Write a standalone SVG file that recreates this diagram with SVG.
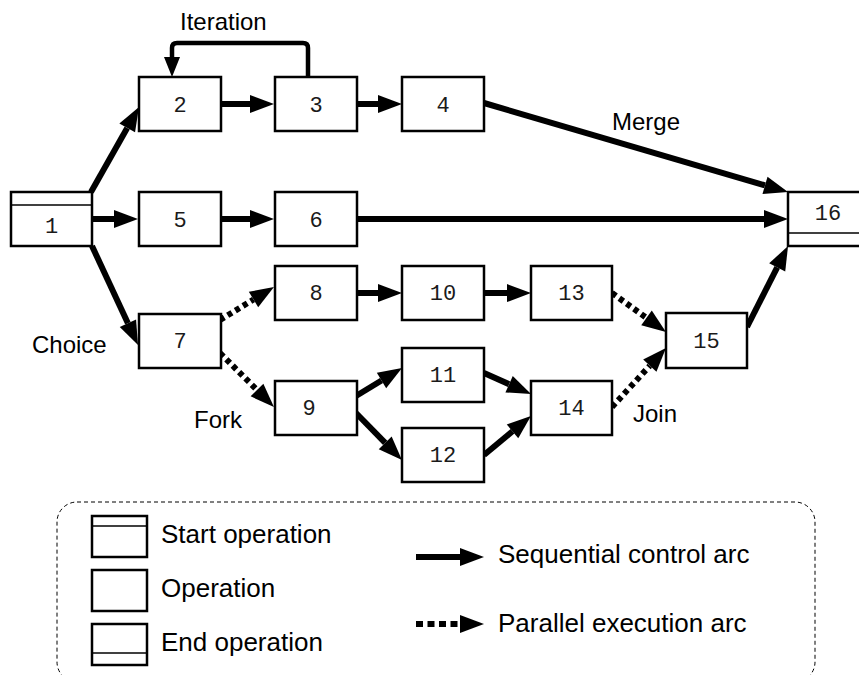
<svg xmlns="http://www.w3.org/2000/svg" width="859" height="675" viewBox="0 0 859 675">
<defs>
<style>
.box{fill:#fff;stroke:#000;stroke-width:2.5}
.sep{stroke:#000;stroke-width:1.5}
.num{font-family:"Liberation Mono","DejaVu Sans Mono",monospace;font-size:22px;text-anchor:middle;fill:#1a1a1a}
.lbl{font-family:"Liberation Sans",Arial,sans-serif;font-size:24px;fill:#000}
.leg{font-family:"Liberation Sans",Arial,sans-serif;font-size:26px;fill:#000}
.seq{fill:none;stroke:#000;stroke-width:6;marker-end:url(#ah)}
.par{fill:none;stroke:#000;stroke-width:6;stroke-dasharray:5 4;marker-end:url(#ah)}
</style>
<marker id="ah" markerUnits="userSpaceOnUse" markerWidth="26" markerHeight="20" viewBox="0 -10 26 20" refX="0" refY="0" orient="auto" overflow="visible">
<path d="M0,-9 L24,0 L0,9 Z" fill="#000"/>
</marker>
<marker id="ahs" markerUnits="userSpaceOnUse" markerWidth="22" markerHeight="18" viewBox="0 -9 22 18" refX="0" refY="0" orient="auto" overflow="visible">
<path d="M0,-8 L20,0 L0,8 Z" fill="#000"/>
</marker>
</defs>
<rect width="859" height="675" fill="#fff"/>

<g id="connectors">
<path class="seq" d="M91,192 L127.2,127.9"/>
<path class="seq" d="M92,219 L114,219"/>
<path class="seq" d="M92,246 L127.9,323.2"/>
<path class="seq" d="M221,104 L250,104"/>
<path class="seq" d="M357,104 L378,104"/>
<path d="M308,77 V48 Q308,43 303,43 H177 Q172,43 172,48 V57" fill="none" stroke="#000" stroke-width="4.5" marker-end="url(#ahs)"/>
<path class="seq" d="M484,103 L765,185.3"/>
<path class="seq" d="M221,219 L250,219"/>
<path class="seq" d="M357,219 L764,219"/>
<path class="par" d="M220,320 L253.5,299.5"/>
<path class="par" d="M220,353 L257,390"/>
<path class="seq" d="M357,293 L378,293"/>
<path class="seq" d="M356,396 L381.5,380.5"/>
<path class="seq" d="M356,413 L385.2,442.9"/>
<path class="seq" d="M485,293 L507,293"/>
<path class="seq" d="M484,373 L509.1,384.2"/>
<path class="seq" d="M484,455 L512.5,431.3"/>
<path class="par" d="M612,293 L646.5,317.9"/>
<path class="par" d="M612,407 L649.8,365.7"/>
<path class="seq" d="M747,327 L777.2,267.4"/>
</g>

<g id="n1"><rect class="box" x="11" y="192" width="81" height="54"/><line class="sep" x1="11" y1="205" x2="92" y2="205"/><text class="num" x="51.5" y="233">1</text></g>
<g id="n2"><rect class="box" x="139" y="77" width="82" height="54"/><text class="num" x="180" y="112">2</text></g>
<g id="n3"><rect class="box" x="275" y="77" width="82" height="54"/><text class="num" x="316" y="112">3</text></g>
<g id="n4"><rect class="box" x="402" y="77" width="82" height="54"/><text class="num" x="443" y="112">4</text></g>
<g id="n5"><rect class="box" x="139" y="192" width="82" height="54"/><text class="num" x="180" y="227">5</text></g>
<g id="n6"><rect class="box" x="275" y="192" width="82" height="54"/><text class="num" x="316" y="227">6</text></g>
<g id="n7"><rect class="box" x="139" y="314" width="82" height="54"/><text class="num" x="180" y="348">7</text></g>
<g id="n8"><rect class="box" x="275" y="266" width="82" height="54"/><text class="num" x="316" y="300">8</text></g>
<g id="n9"><rect class="box" x="275" y="381" width="82" height="54"/><text class="num" x="309" y="415">9</text></g>
<g id="n10"><rect class="box" x="402" y="266" width="82" height="54"/><text class="num" x="443" y="300">10</text></g>
<g id="n11"><rect class="box" x="402" y="348" width="82" height="54"/><text class="num" x="443" y="382">11</text></g>
<g id="n12"><rect class="box" x="402" y="428" width="82" height="54"/><text class="num" x="443" y="462">12</text></g>
<g id="n13"><rect class="box" x="531" y="266" width="81" height="54"/><text class="num" x="571.5" y="300">13</text></g>
<g id="n14"><rect class="box" x="531" y="381" width="81" height="54"/><text class="num" x="571.5" y="415">14</text></g>
<g id="n15"><rect class="box" x="666" y="313" width="81" height="55"/><text class="num" x="706.5" y="348">15</text></g>
<g id="n16"><rect class="box" x="788" y="192" width="82" height="54"/><line class="sep" x1="788" y1="233" x2="870" y2="233"/><text class="num" x="828" y="220">16</text></g>

<g id="labels">
<text class="lbl" x="180" y="30">Iteration</text>
<text class="lbl" x="612" y="130">Merge</text>
<text class="lbl" x="32" y="353">Choice</text>
<text class="lbl" x="194" y="428">Fork</text>
<text class="lbl" x="633" y="422">Join</text>
</g>

<g id="legend">
<rect x="57" y="502" width="758" height="180" rx="20" fill="none" stroke="#000" stroke-width="1" stroke-dasharray="4 3"/>
<rect class="box" x="92" y="516" width="55" height="41"/><line class="sep" x1="92" y1="526" x2="147" y2="526"/>
<text class="leg" x="161" y="543">Start operation</text>
<rect class="box" x="92" y="570" width="55" height="41"/>
<text class="leg" x="161" y="597">Operation</text>
<rect class="box" x="92" y="624" width="55" height="41"/><line class="sep" x1="92" y1="653" x2="147" y2="653"/>
<text class="leg" x="161" y="651">End operation</text>
<path class="seq" d="M416,557 L460,557"/>
<text class="leg" x="498" y="563">Sequential control arc</text>
<path class="par" d="M416,624 L460,624" style="stroke-dasharray:7 4.5"/>
<text class="leg" x="498" y="632">Parallel execution arc</text>
</g>
</svg>
